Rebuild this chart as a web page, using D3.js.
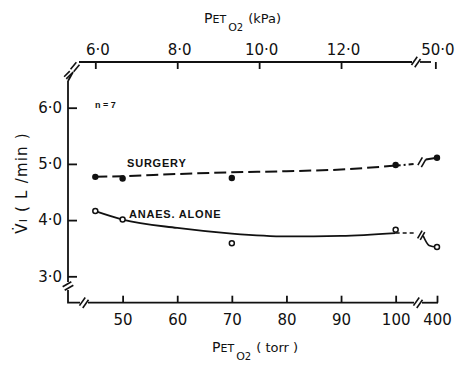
<!DOCTYPE html>
<html>
<head>
<meta charset="utf-8">
<script src="https://cdn.jsdelivr.net/npm/d3@7"></script>
<style>
  body { margin: 0; background: #fff; }
  svg { display: block; }
  text { font-family: "DejaVu Sans", sans-serif; fill: #111; }
</style>
</head>
<body>
<div id="chart"></div>
<script>
// values
const torrTicks = [50, 60, 70, 80, 90, 100, 400];
const kpaTicks = [6, 8, 10, 12, 50];
const yTicks = [3, 4, 5, 6];

const obsTorr = [45, 50, 70, 100, 400];
const surgery = [4.77, 4.74, 4.75, 4.98, 5.11];
const anaes = [4.16, 4.01, 3.59, 3.83, 3.52];

const fitTorr = [45, 50, 60, 70, 80, 90, 100];
const surgeryFit = [4.77, 4.78, 4.82, 4.85, 4.87, 4.9, 4.97];
const anaesFit = [4.16, 4.01, 3.86, 3.76, 3.71, 3.72, 3.77];

// tails across the axis break (torr, value)
const surgeryTail = [[100, 4.97], [103.5, 5.0]];
const surgeryTail2 = [[230, 5.08], [400, 5.11]];
const anaesTail = [[100, 3.77], [103.5, 3.77]];
const anaesTail2 = [[190, 3.72], [280, 3.55], [400, 3.52]];

const W = 460, H = 365;
const AX_BOTTOM = 302.7, AX_TOP = 62, AX_LEFT = 68;

const svg = d3.select("#chart").append("svg").attr("width", W).attr("height", H);

// broken x axis: 40..104 torr linear, 104..400 squeezed
const x = d3.scaleLinear().domain([40, 104, 400]).range([AX_LEFT, 417.5, 437]);
const xk = d3.scaleLinear().domain([40 / 7.5, 104 / 7.5, 400 / 7.5]).range([AX_LEFT, 417.5, 437]);
const y = d3.scaleLinear().domain([3, 6]).range([276.3, 107.7]);

const dotFmt = d => d3.format(".1f")(d).replace(".", "\u00b7");

// bottom axis
const gB = svg.append("g").attr("transform", `translate(0,${AX_BOTTOM})`)
  .call(d3.axisBottom(x).tickValues(torrTicks).tickSize(-7).tickPadding(12).tickFormat(d3.format("d")));
gB.select(".domain").remove();

// top axis
const gT = svg.append("g").attr("transform", `translate(0,${AX_TOP})`)
  .call(d3.axisTop(xk).tickValues(kpaTicks).tickSize(-7).tickPadding(7).tickFormat(dotFmt));
gT.select(".domain").remove();
gT.selectAll(".tick text").attr("dx", 2);

// left axis
const gL = svg.append("g").attr("transform", `translate(${AX_LEFT},0)`)
  .call(d3.axisLeft(y).tickValues(yTicks).tickSize(-9).tickPadding(6).tickFormat(dotFmt));
gL.select(".domain").remove();

[gB, gT, gL].forEach(g => {
  g.selectAll(".tick line").attr("stroke", "#111").attr("stroke-width", 1.8);
  g.selectAll(".tick text").style("font-family", "DejaVu Sans").style("font-size", "15px").attr("fill", "#111");
});

// axis lines with breaks
const axisPaths = [
  `M${AX_LEFT},81V282`,
  `M${AX_LEFT},290V${AX_BOTTOM}H80`,
  `M88,${AX_BOTTOM}H414`,
  `M422,${AX_BOTTOM}H438`,
  `M79,${AX_TOP}H412`,
  `M420,${AX_TOP}H431`,
  `M${AX_LEFT},81L73,72`,
];
svg.append("g").selectAll("path").data(axisPaths).join("path")
  .attr("d", d => d).attr("fill", "none").attr("stroke", "#111").attr("stroke-width", 1.8);

function breakMark(cx, cy, angle, len = 10, gap = 4) {
  const g = svg.append("g").attr("transform", `translate(${cx},${cy}) rotate(${angle})`);
  [-gap / 2, gap / 2].forEach(o => {
    g.append("line").attr("x1", o).attr("x2", o).attr("y1", -len / 2).attr("y2", len / 2)
      .attr("stroke", "#111").attr("stroke-width", 1.6);
  });
}
breakMark(84, AX_BOTTOM, 35);
breakMark(418, AX_BOTTOM, 35);
breakMark(AX_LEFT, 286, 60);
breakMark(416, AX_TOP, 35);
breakMark(75, 67, 40, 9, 4);
breakMark(68, 75, 45, 8, 3);

// fitted curves
const line = d3.line().x(d => x(d[0])).y(d => y(d[1])).curve(d3.curveMonotoneX);
const zip = (a, b) => a.map((v, i) => [v, b[i]]);

svg.append("path").datum(zip(fitTorr, surgeryFit)).attr("d", line)
  .attr("fill", "none").attr("stroke", "#111").attr("stroke-width", 2).attr("stroke-dasharray", "12,5");
svg.append("path").datum(zip(fitTorr, anaesFit)).attr("d", line)
  .attr("fill", "none").attr("stroke", "#111").attr("stroke-width", 1.8);

svg.append("path").datum(surgeryTail).attr("d", line)
  .attr("fill", "none").attr("stroke", "#111").attr("stroke-width", 2).attr("stroke-dasharray", "5,3,2,3");
svg.append("path").datum(surgeryTail2).attr("d", line)
  .attr("fill", "none").attr("stroke", "#111").attr("stroke-width", 2);
svg.append("path").datum(anaesTail).attr("d", line)
  .attr("fill", "none").attr("stroke", "#111").attr("stroke-width", 1.6).attr("stroke-dasharray", "4,3");
svg.append("path").datum(anaesTail2).attr("d", line)
  .attr("fill", "none").attr("stroke", "#111").attr("stroke-width", 1.6);
breakMark(x(170), y(5.03), 30, 9, 4);
breakMark(x(160), y(3.73), 30, 9, 3);

// observed points
svg.append("g").selectAll("circle").data(zip(obsTorr, surgery)).join("circle")
  .attr("cx", d => x(d[0])).attr("cy", d => y(d[1])).attr("r", 3.2).attr("fill", "#111");
svg.append("g").selectAll("circle").data(zip(obsTorr, anaes)).join("circle")
  .attr("cx", d => x(d[0])).attr("cy", d => y(d[1])).attr("r", 2.5)
  .attr("fill", "#fff").attr("stroke", "#111").attr("stroke-width", 1.5);

// curve labels
svg.append("text").attr("x", 127).attr("y", 167).text("SURGERY")
  .style("font-family", "Liberation Sans").style("font-weight", "bold").style("font-size", "11px").style("letter-spacing", "0.8px");
svg.append("text").attr("x", 129).attr("y", 217.5).text("ANAES. ALONE")
  .style("font-family", "Liberation Sans").style("font-weight", "bold").style("font-size", "11px").style("letter-spacing", "0.8px");
svg.append("text").attr("x", 95).attr("y", 108).text("n = 7")
  .style("font-family", "Liberation Sans").style("font-weight", "bold").style("font-size", "9px");

// axis titles
function pTitle(x0, yb, unit) {
  const t = svg.append("text").attr("x", x0).attr("y", yb);
  t.append("tspan").style("font-size", "14px").text("P");
  t.append("tspan").style("font-size", "11px").text("ET");
  t.append("tspan").style("font-size", "11px").attr("dy", 8).attr("dx", 2).text("O");
  t.append("tspan").style("font-size", "10px").text("2");
  t.append("tspan").style("font-size", "13px").attr("dy", -8).attr("dx", 5).text(unit);
  return t;
}
pTitle(204, 23, "(kPa)");
pTitle(212, 352, "( torr )");

const yTitle = svg.append("text").attr("transform", "translate(27,183) rotate(-90)").attr("text-anchor", "middle")
  .style("font-size", "15px").style("letter-spacing", "1.2px");
yTitle.append("tspan").text("V\u0307");
yTitle.append("tspan").style("font-size", "11px").text("I");
yTitle.append("tspan").text(" ( L /min )");
</script>
</body>
</html>
